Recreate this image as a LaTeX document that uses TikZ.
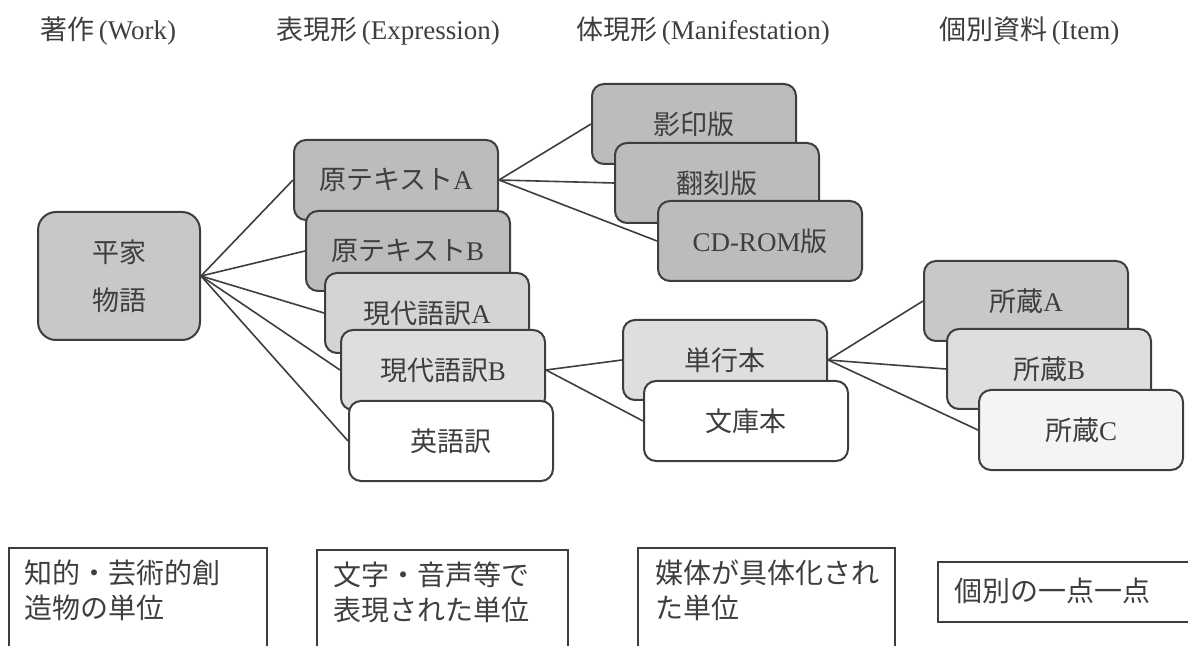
\documentclass[tikz,border=0pt]{standalone}
\usepackage{fontspec}
\setmainfont{Liberation Serif}
\newfontfamily\jpfont{Noto Sans CJK JP}
\usetikzlibrary{backgrounds}
\definecolor{frInk}{RGB}{62,62,62}
\definecolor{frDark}{RGB}{188,188,188}
\definecolor{frMid}{RGB}{200,200,200}
\definecolor{frSoft}{RGB}{212,212,212}
\definecolor{frLight}{RGB}{222,222,222}
\definecolor{frPale}{RGB}{244,244,244}
\newcommand{\jp}[1]{{\jpfont #1}}
\tikzset{
    base/.style={font=\fontsize{13.5}{16}\selectfont, text=frInk, align=center},
    entity/.style={base, rectangle, rounded corners=6pt, draw=frInk, line width=1pt,
                   minimum width=102pt, minimum height=40pt, inner sep=0pt},
    shadeA/.style={entity, fill=frDark},
    shadeB/.style={entity, fill=frMid},
    shadeC/.style={entity, fill=frSoft},
    shadeD/.style={entity, fill=frLight},
    shadeE/.style={entity, fill=frPale},
    plain/.style={entity, fill=white},
    link/.style={draw=frInk, line width=0.8pt},
    heading/.style={base, anchor=west, inner sep=0pt},
    note/.style={font=\fontsize{14}{17.5}\selectfont, text=frInk, align=left,
                 inner sep=0pt, anchor=north west},
    notebox/.style={draw=frInk, line width=0.9pt}
}
\begin{document}
\begin{tikzpicture}[x=0.5pt, y=-0.5pt]
  \useasboundingbox (0,0) rectangle (1188,646);

  % Column headings
  \node[heading] (hWork) at (40,31) {\jp{著作}\,(Work)};
  \node[heading] (hExpr) at (276,31) {\jp{表現形}\,(Expression)};
  \node[heading] (hMani) at (576,31) {\jp{体現形}\,(Manifestation)};
  \node[heading] (hItem) at (939,31) {\jp{個別資料}\,(Item)};

  % Work
  \node[shadeB, minimum width=81pt, minimum height=64pt, rounded corners=9pt,
        font=\fontsize{13.5}{24}\selectfont] (heike) at (119,276) {\jp{平家}\\\jp{物語}};

  % Expressions
  \node[shadeA] (origA) at (396,180) {\jp{原テキスト}A};
  \node[shadeA] (origB) at (408,251) {\jp{原テキスト}B};
  \node[shadeC] (modA) at (427,313) {\jp{現代語訳}A};
  \node[shadeD] (modB) at (443,370) {\jp{現代語訳}B};
  \node[plain] (english) at (451,441) {\jp{英語訳}};

  % Manifestations
  \node[shadeA] (facsimile) at (694,124) {\jp{影印版}};
  \node[shadeA] (reprint) at (717,183) {\jp{翻刻版}};
  \node[shadeA] (cdrom) at (760,241) {CD-ROM\jp{版}};
  \node[shadeD] (tankobon) at (725,360) {\jp{単行本}};
  \node[plain] (bunko) at (746,421) {\jp{文庫本}};

  % Items
  \node[shadeB] (copyA) at (1026,301) {\jp{所蔵}A};
  \node[shadeD] (copyB) at (1049,369) {\jp{所蔵}B};
  \node[shadeE] (copyC) at (1081,430) {\jp{所蔵}C};

  % Connectors
  \begin{scope}[on background layer]
    \foreach \e in {origA,origB,modA,modB,english}
      \draw[link] (heike.east) -- (\e.west);
    \foreach \m in {facsimile,reprint,cdrom}
      \draw[link] (origA.east) -- (\m.west);
    \foreach \m in {tankobon,bunko}
      \draw[link] (modB.east) -- (\m.west);
    \foreach \i in {copyA,copyB,copyC}
      \draw[link] (tankobon.east) -- (\i.west);
  \end{scope}

  % Definitions
  \draw[notebox] (9,548) rectangle (267,700);
  \node[note] (workNote) at (24,559) {\jp{知的・芸術的創}\\\jp{造物の単位}};
  \draw[notebox] (317,550) rectangle (568,700);
  \node[note] (exprNote) at (333,561) {\jp{文字・音声等で}\\\jp{表現された単位}};
  \draw[notebox] (638,548) rectangle (895,700);
  \node[note] (maniNote) at (655,559) {\jp{媒体が具体化され}\\\jp{た単位}};
  \draw[notebox] (938,562) rectangle (1200,622);
  \node[note] (itemNote) at (954,578) {\jp{個別の一点一点}};
\end{tikzpicture}
\end{document}
